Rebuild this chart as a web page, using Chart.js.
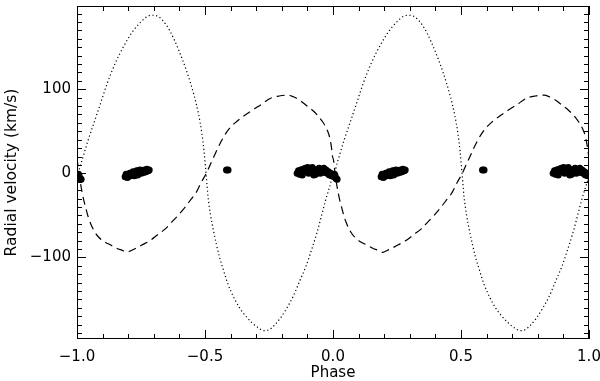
<!DOCTYPE html>
<html>
<head>
<meta charset="utf-8">
<script src="https://cdn.jsdelivr.net/npm/chart.js@4"></script>
<style>
  html, body { margin: 0; padding: 0; background: #fff; }
  #wrap { width: 600px; height: 381px; }
</style>
</head>
<body>
<div id="wrap"><canvas id="myChart" width="600" height="381"></canvas></div>
<script>
// one orbital period (phase 0..1); it is drawn twice (phase-1 and phase)
const curvePhase1 = [0.000,0.016,0.043,0.073,0.095,0.118,0.151,0.184,0.216,0.249,0.277,0.297,0.320,0.345,0.367,0.398,0.430,0.457,0.475,0.488,0.496,0.504,0.512,0.522,0.533,0.545,0.557,0.572,0.590,0.610,0.635,0.660,0.685,0.710,0.730,0.750,0.770,0.795,0.820,0.845,0.870,0.895,0.915,0.935,0.953,0.973,0.987,1.000];
const curveRv1    = [-4,12,39,66,86,107,132,152,168,180,187,188,186,178,167,146,120,93,70,47,27,0,-28,-50,-68,-85,-100,-115,-132,-146,-160,-170,-178,-184,-187,-186,-181,-172,-160,-146,-128,-110,-92,-73,-53,-30,-16,-4];

const curvePhase2 = [0.000,0.008,0.016,0.025,0.035,0.045,0.055,0.070,0.085,0.105,0.130,0.155,0.180,0.195,0.210,0.230,0.255,0.285,0.315,0.345,0.370,0.395,0.420,0.445,0.465,0.485,0.505,0.520,0.535,0.550,0.565,0.580,0.600,0.625,0.650,0.684,0.720,0.754,0.790,0.825,0.845,0.870,0.895,0.920,0.940,0.960,0.975,0.985,0.993,1.000];
const curveRv2    = [18,0,-16,-30,-42,-53,-61,-70,-76,-81,-85,-89,-92,-94,-92,-89,-85,-80,-73,-66,-58,-50,-41,-31,-23,-11,0,10,20,30,39,47,55,62,68,75,82,89,92,93,91,87,81,75,69,61,53,45,33,18];

// measured radial velocities
const obsPhase = [0.000,0.004,0.008,0.012,0.016,0.006,
  0.188,0.192,0.197,0.201,0.206,0.210,0.215,0.219,0.224,0.228,0.233,0.237,0.242,0.246,0.251,0.255,0.260,0.264,0.269,0.273,0.278,0.282,0.200,0.240,
  0.584,0.590,
  0.860,0.865,0.869,0.874,0.878,0.883,0.887,0.892,0.896,0.901,0.905,0.910,0.914,0.919,0.923,0.928,0.932,0.937,0.941,0.946,0.950,0.955,0.959,0.964,0.968,0.973,0.977,0.982,0.986,0.991,0.995,0.880,0.905,0.925,0.950];
const obsRv = [-2,-4,-3,-6,-7,-1,
  -4,-1,-5,-2,0,-3,-1,2,-3,0,3,-2,1,4,0,3,1,4,2,5,3,4,-2,3,
  4,4,
  0,3,-1,4,1,5,2,6,3,7,2,5,4,7,1,4,-1,2,5,6,2,4,3,6,1,4,0,2,-2,0,-3,-2,0,-2,0];

const xTicks = [-1.0,-0.5,0.0,0.5,1.0];
const yTicks = [-100,0,100];

// phase folded: same period shown at phase-1 and phase
function fold(ph, rv){
	let pts = [];
	ph.forEach((p,i)=>{ pts.push({x:p-1, y:rv[i]}) });
	ph.forEach((p,i)=>{ pts.push({x:p, y:rv[i]}) });
	return pts;
}

const minus = s => String(s).replace('-', '\u2212');

// IDL style inward ticks on all four sides + box
const tickMarks = {
	id: 'tickMarks',
	afterDraw(chart){
		const {ctx, chartArea:a, scales:{x, y}} = chart;
		ctx.save();
		ctx.strokeStyle = '#000';
		ctx.lineWidth = 1;
		ctx.strokeRect(a.left+0.5, a.top+0.5, a.right-a.left-1, a.bottom-a.top-1);
		ctx.beginPath();
		for(let k=-10; k<=10; k++){
			let px = Math.round(x.getPixelForValue(k/10))+0.5;
			let len = k%5==0 ? 9 : 5;
			ctx.moveTo(px, a.bottom); ctx.lineTo(px, a.bottom-len);
			ctx.moveTo(px, a.top); ctx.lineTo(px, a.top+len);
		}
		for(let k=-19; k<=19; k++){
			let py = Math.round(y.getPixelForValue(k*10))+0.5;
			let len = k%10==0 ? 9 : 5;
			ctx.moveTo(a.left, py); ctx.lineTo(a.left+len, py);
			ctx.moveTo(a.right, py); ctx.lineTo(a.right-len, py);
		}
		ctx.stroke();
		ctx.restore();
	}
}

const ctx = document.getElementById('myChart');
Chart.defaults.font.family = "'DejaVu Sans'";
Chart.defaults.font.size = 15;
Chart.defaults.color = '#000';

new Chart(ctx, {
	type: 'scatter',
	data: {
		datasets: [
			{
				data: fold(obsPhase, obsRv),
				backgroundColor: '#000',
				borderWidth: 0,
				pointRadius: 3.5
			},
			{
				data: fold(curvePhase1, curveRv1),
				showLine: true,
				pointRadius: 0,
				borderColor: '#000',
				borderWidth: 1.2,
				borderDash: [1.2, 2.6],
				cubicInterpolationMode: 'monotone'
			},
			{
				data: fold(curvePhase2, curveRv2),
				showLine: true,
				pointRadius: 0,
				borderColor: '#000',
				borderWidth: 1.2,
				borderDash: [8, 5],
				cubicInterpolationMode: 'monotone'
			}
		]
	},
	options: {
		responsive: false,
		animation: false,
		layout: { padding: { top: 6, right: 11, left: 0, bottom: 0 } },
		plugins: { legend: { display: false }, tooltip: { enabled: false } },
		scales: {
			x: {
				type: 'linear', min: -1, max: 1,
				grid: { display: false, drawTicks: false },
				border: { display: false },
				afterBuildTicks: s => { s.ticks = xTicks.map(v => ({value: v})) },
				afterFit: s => { s.height = 42; s.paddingLeft = 0; s.paddingRight = 0 },
				ticks: { padding: 9, maxRotation: 0, callback: v => minus(v.toFixed(1)) },
				title: { display: true, text: 'Phase', font: { lineHeight: 1 }, padding: { top: 0, bottom: 0 } }
			},
			y: {
				type: 'linear', min: -197, max: 199,
				grid: { display: false, drawTicks: false },
				border: { display: false },
				afterBuildTicks: s => { s.ticks = yTicks.map(v => ({value: v})) },
				afterFit: s => { s.width = 77; s.paddingTop = 0; s.paddingBottom = 0 },
				ticks: { padding: 6, callback: v => minus(v) },
				title: { display: true, text: 'Radial velocity (km/s)', font: { size: 15.5 }, padding: { top: 3, bottom: 0 } }
			}
		}
	},
	plugins: [tickMarks]
});
</script>
</body>
</html>
